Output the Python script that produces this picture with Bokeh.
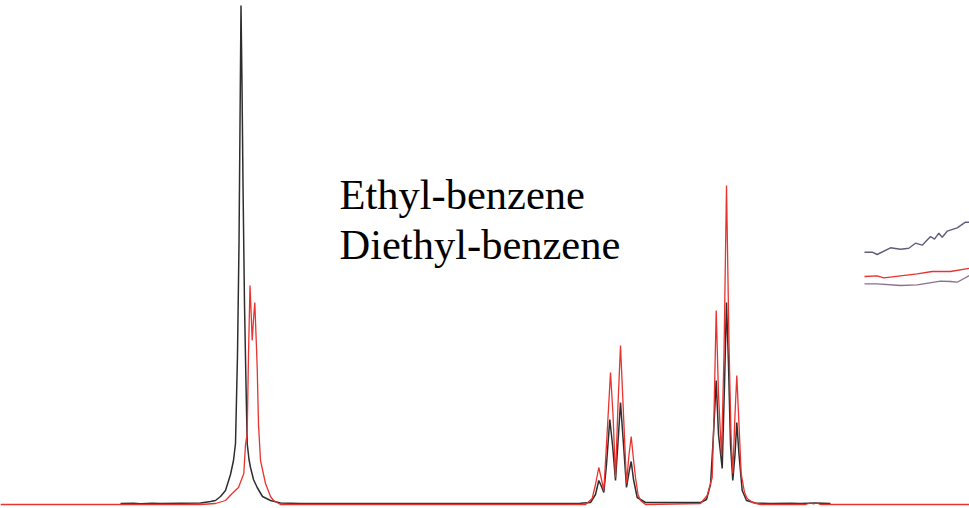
from bokeh.plotting import figure
from bokeh.models import Range1d, Label
from bokeh.embed import file_html
from bokeh.resources import INLINE

# Spectrum traces (shift in arbitrary units, intensity above baseline)
ethyl_shift = [120, 133, 140, 152, 160, 200, 210, 215, 220, 225, 230, 233, 235, 237, 238.5, 239.5, 240.5,
               241.5, 242.5, 244, 245.5, 246.7, 248.5, 250, 253, 256.7, 262, 270, 280, 300, 400, 500, 580,
               590, 595, 598.3, 601, 603.3, 606, 609.3, 612, 615, 618, 620, 623, 626, 629, 630.7, 633,
               636.7, 645, 700, 706, 710, 713, 715.7, 718, 721.7, 724, 726, 728, 730, 732.3, 734.5,
               736.3, 738.5, 741.7, 746, 755, 770, 790, 800, 815, 830]
ethyl_int = [1, 1.3, 0.8, 1.2, 1, 1.5, 3, 4, 8, 14, 30, 44, 61, 150, 260, 380, 499,
             420, 320, 200, 120, 61, 45, 37, 25, 17, 8, 4, 1.5, 1, 1, 1, 1.2,
             2, 10, 24, 18, 12, 40, 85, 60, 24, 70, 102, 60, 17, 35, 43, 25,
             7, 2, 2, 5, 20, 70, 124, 70, 36, 120, 202, 140, 60, 24, 50,
             82, 50, 14, 4, 1.5, 1, 1.3, 1, 1.5, 1]

diethyl_shift = [0, 200, 215, 225, 231.7, 238, 243.3, 245, 246.7, 248, 249.5, 250.7, 251.7, 253, 254.3,
                 255.5, 256.7, 258, 260, 265, 270, 273, 280, 585, 591.7, 595, 598.3, 601, 603.3, 606, 610,
                 612.5, 615, 617.5, 620, 623, 626, 628.5, 630.7, 633, 635, 637.5, 640, 645, 700, 706.7,
                 711.7, 713.5, 715.7, 718, 721, 723.5, 726, 728.5, 730.5, 732.3, 734.5, 736.3, 738.5,
                 740.7, 744, 746.7, 752, 760, 805, 810, 813, 816, 820, 969]
diethyl_int = [0, 0, 1, 4, 11, 17, 31, 60, 71, 150, 219, 190, 164, 185, 202,
               170, 137, 80, 44, 21, 8, 4, 0, 0, 6, 20, 37, 25, 14, 60, 132,
               90, 27, 100, 159, 90, 21, 50, 68, 45, 27, 10, 4, 0, 1, 9,
               27, 90, 194, 110, 49, 150, 319, 160, 70, 31, 90, 129, 80,
               31, 12, 6, 2, 0, 0, 1.5, 0.5, 1.5, 0, 0]

# Fragments at the right edge
frag_shift_a = [864, 871.7, 876.7, 890, 900, 908.3, 915, 921.7, 930, 934, 938.3, 941.7, 946.7, 956.7, 965, 969]
frag_int_a = [252.3, 252.3, 250, 256.7, 255.3, 256.3, 261.3, 259.3, 268, 265.3, 271.3, 267.3, 273.3, 276.7, 282.3, 282.3]
frag_shift_b = [864, 876.7, 883.3, 916.7, 931.7, 950, 969]
frag_int_b = [228, 228.7, 226.7, 230.7, 233, 233, 236.3]
frag_shift_c = [864, 876.7, 900, 916.7, 940, 950, 956.7, 969]
frag_int_c = [220.7, 220.7, 219, 219.7, 223.3, 223, 222.3, 229]

names = ["Ethyl-benzene", "Diethyl-benzene"]

p = figure(width=969, height=508, output_backend="svg", toolbar_location=None,
           x_range=Range1d(0, 969), y_range=Range1d(-4, 504),
           min_border=0, min_border_left=0, min_border_right=0,
           min_border_top=0, min_border_bottom=0)
p.axis.visible = False
p.grid.visible = False
p.outline_line_color = None
p.background_fill_color = "white"
p.border_fill_color = "white"

p.line(ethyl_shift, ethyl_int, line_color="#2e2e2e", line_width=1.5)
p.line(diethyl_shift, diethyl_int, line_color="#e8332f", line_width=1.3)
p.line(frag_shift_a, frag_int_a, line_color="#5e5e7c", line_width=1.4)
p.line(frag_shift_b, frag_int_b, line_color="#e8332f", line_width=1.3)
p.line(frag_shift_c, frag_int_c, line_color="#8e6e8e", line_width=1.3)

p.add_layout(Label(x=339, y=310.5, text=names[0], text_font="Liberation Serif",
                   text_font_size="42.5px", text_baseline="alphabetic", text_color="black"))
p.add_layout(Label(x=339, y=260.5, text=names[1], text_font="Liberation Serif",
                   text_font_size="42.5px", text_baseline="alphabetic", text_color="black"))

open("out.html", "w").write(file_html(p, INLINE))
